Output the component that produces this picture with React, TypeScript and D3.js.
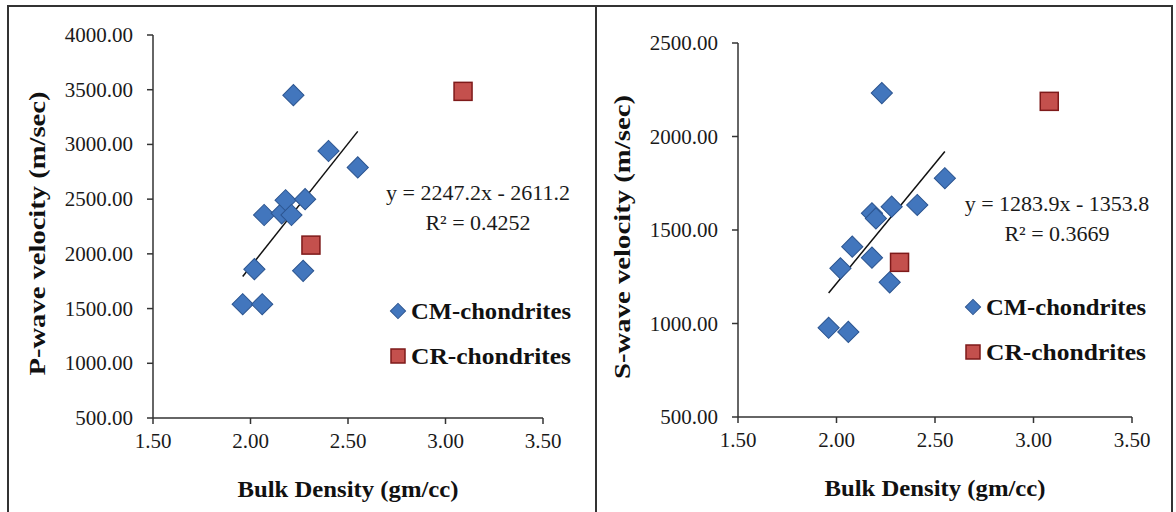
import * as d3 from "d3";

// P-wave panel (left)
const pDensity = [1.96, 2.06, 2.02, 2.07, 2.16, 2.18, 2.21, 2.22, 2.27, 2.28, 2.40, 2.55];
const pVelocity = [1540, 1540, 1860, 2355, 2370, 2490, 2355, 3450, 1845, 2500, 2940, 2790];
const pCrDensity = [2.31, 3.09];
const pCrVelocity = [2080, 3485];
const pFit = [2247.2, -2611.2];
const pFitText = ["y = 2247.2x - 2611.2", "R² = 0.4252"];
const pTicks = [500, 1000, 1500, 2000, 2500, 3000, 3500, 4000];

// S-wave panel (right)
const sDensity = [1.96, 2.06, 2.02, 2.08, 2.18, 2.18, 2.20, 2.23, 2.27, 2.28, 2.41, 2.55];
const sVelocity = [977, 955, 1295, 1411, 1352, 1589, 1562, 2232, 1220, 1625, 1634, 1777];
const sCrDensity = [2.32, 3.08];
const sCrVelocity = [1327, 2188];
const sFit = [1283.9, -1353.8];
const sFitText = ["y = 1283.9x - 1353.8", "R² = 0.3669"];
const sTicks = [500, 1000, 1500, 2000, 2500];

const xTicks = [1.5, 2.0, 2.5, 3.0, 3.5];
const seriesNames = ["CM-chondrites", "CR-chondrites"];

const SERIF = "'Liberation Serif', 'Times New Roman', serif";
const blue = "#4276BD";
const blueEdge = "#2C5590";
const red = "#C4504D";
const redEdge = "#7E1A1A";

function Panel(props) {
  const { box, plot, yTitle, density, velocity, crDensity, crVelocity, fit, fitText, yTicks, eqPos, legPos } = props;
  const x = d3.scaleLinear().domain([1.5, 3.5]).range([plot.left, plot.right]);
  const y = d3.scaleLinear().domain([500, yTicks[yTicks.length - 1]]).range([plot.bottom, plot.top]);
  const fmt = d3.format(".2f");

  // rotated squares make the diamonds
  const diamond = d3.symbol(d3.symbolSquare, 225)();
  const diamondSmall = d3.symbol(d3.symbolSquare, 115)();

  const x0 = d3.min(density);
  const x1 = d3.max(density);
  const trend = d3.line()([
    [x(x0), y(fit[0] * x0 + fit[1])],
    [x(x1), y(fit[0] * x1 + fit[1])],
  ]);

  const midY = (plot.top + plot.bottom) / 2;

  return (
    <g>
      <rect x={box.x} y={box.y} width={box.w} height={box.h} fill="#fff" stroke="#333" strokeWidth={2} />

      {/* axes */}
      <line x1={plot.left} x2={plot.left} y1={plot.top} y2={plot.bottom} stroke="#333" strokeWidth={1.5} />
      <line x1={plot.left} x2={plot.right} y1={plot.bottom} y2={plot.bottom} stroke="#333" strokeWidth={1.5} />
      {yTicks.map((t) => (
        <g key={"y" + t}>
          <line x1={plot.left - 6} x2={plot.left} y1={y(t)} y2={y(t)} stroke="#333" strokeWidth={1.5} />
          <text x={plot.left - 20} y={y(t) + 7} textAnchor="end" fontFamily={SERIF} fontSize={21} fill="#1a1a1a">
            {fmt(t)}
          </text>
        </g>
      ))}
      {xTicks.map((t) => (
        <g key={"x" + t}>
          <line x1={x(t)} x2={x(t)} y1={plot.bottom} y2={plot.bottom + 6} stroke="#333" strokeWidth={1.5} />
          <text x={x(t)} y={plot.bottom + 30} textAnchor="middle" fontFamily={SERIF} fontSize={21} fill="#1a1a1a">
            {fmt(t)}
          </text>
        </g>
      ))}

      {/* axis titles */}
      <text
        x={(plot.left + plot.right) / 2}
        y={plot.bottom + 79}
        textAnchor="middle"
        fontFamily={SERIF}
        fontWeight="bold"
        fontSize={23}
        fill="#111"
        textLength={221}
        lengthAdjust="spacingAndGlyphs"
      >
        Bulk Density (gm/cc)
      </text>
      <text
        transform={`translate(${plot.left - 108},${midY + 7}) rotate(-90)`}
        textAnchor="middle"
        fontFamily={SERIF}
        fontWeight="bold"
        fontSize={23}
        fill="#111"
        textLength={284}
        lengthAdjust="spacingAndGlyphs"
      >
        {yTitle}
      </text>

      {/* trendline */}
      <path d={trend} stroke="#111" strokeWidth={1.5} fill="none" />

      {/* CM points */}
      {density.map((d, i) => (
        <path
          key={"cm" + i}
          d={diamond}
          transform={`translate(${x(d)},${y(velocity[i])}) rotate(45)`}
          fill={blue}
          stroke={blueEdge}
          strokeWidth={1}
        />
      ))}
      {/* CR points */}
      {crDensity.map((d, i) => (
        <rect
          key={"cr" + i}
          x={x(d) - 9}
          y={y(crVelocity[i]) - 9}
          width={18}
          height={18}
          fill={red}
          stroke={redEdge}
          strokeWidth={1.5}
        />
      ))}

      {/* equation */}
      <text x={eqPos.x} y={eqPos.y} textAnchor="middle" fontFamily={SERIF} fontSize={22} fill="#1a1a1a">
        {fitText[0]}
      </text>
      <text x={eqPos.x} y={eqPos.y + 30} textAnchor="middle" fontFamily={SERIF} fontSize={22} fill="#1a1a1a">
        {fitText[1]}
      </text>

      {/* legend */}
      <path d={diamondSmall} transform={`translate(${legPos.x},${legPos.y}) rotate(45)`} fill={blue} stroke={blueEdge} />
      <text x={legPos.x + 13} y={legPos.y + 8} fontFamily={SERIF} fontWeight="bold" fontSize={23} fill="#111"
        textLength={160} lengthAdjust="spacingAndGlyphs">
        {seriesNames[0]}
      </text>
      <rect x={legPos.x - 7} y={legPos.y + 38} width={14} height={14} fill={red} stroke={redEdge} strokeWidth={1.5} />
      <text x={legPos.x + 13} y={legPos.y + 53} fontFamily={SERIF} fontWeight="bold" fontSize={23} fill="#111"
        textLength={160} lengthAdjust="spacingAndGlyphs">
        {seriesNames[1]}
      </text>
    </g>
  );
}

export default function App() {
  return (
    <svg width={1176} height={512} style={{ position: "absolute", left: 0, top: 0, background: "#fff" }}>
      <Panel
        box={{ x: 8, y: 6, w: 588, h: 520 }}
        plot={{ left: 153, right: 543, top: 35, bottom: 418 }}
        yTitle="P-wave velocity (m/sec)"
        density={pDensity}
        velocity={pVelocity}
        crDensity={pCrDensity}
        crVelocity={pCrVelocity}
        fit={pFit}
        fitText={pFitText}
        yTicks={pTicks}
        eqPos={{ x: 478, y: 200 }}
        legPos={{ x: 398, y: 311 }}
      />
      <Panel
        box={{ x: 596, y: 6, w: 576, h: 520 }}
        plot={{ left: 738, right: 1132, top: 43, bottom: 417 }}
        yTitle="S-wave velocity (m/sec)"
        density={sDensity}
        velocity={sVelocity}
        crDensity={sCrDensity}
        crVelocity={sCrVelocity}
        fit={sFit}
        fitText={sFitText}
        yTicks={sTicks}
        eqPos={{ x: 1057, y: 211 }}
        legPos={{ x: 973, y: 307 }}
      />
    </svg>
  );
}
